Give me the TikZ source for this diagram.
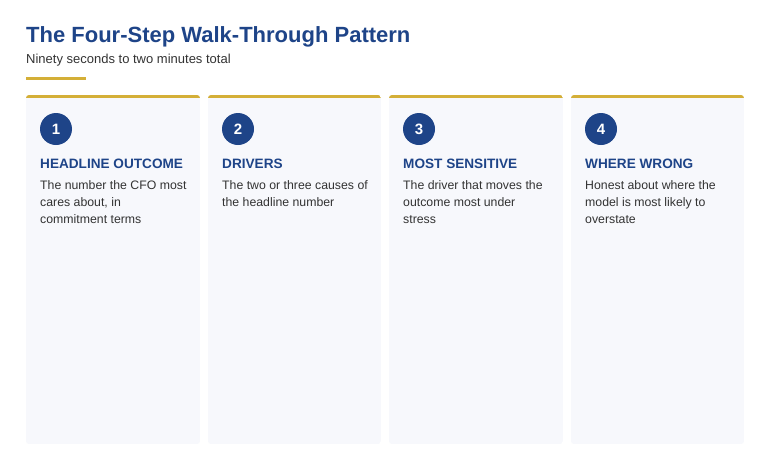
\documentclass[tikz,border=0pt]{standalone}
\usepackage{fontspec}
\setmainfont{Liberation Sans}
\definecolor{navy}{HTML}{1E4488}
\definecolor{gold}{HTML}{D4AF37}
\definecolor{cardbg}{HTML}{F7F8FC}
\definecolor{bodytxt}{HTML}{333333}
\begin{document}
\begin{tikzpicture}[x=1pt,y=-1pt,
  num/.style={circle,fill=navy,minimum size=32pt,inner sep=0,text=white,font=\fontsize{15}{17}\selectfont\bfseries},
  head/.style={anchor=base west,inner sep=0,text=navy,font=\fontsize{13.6}{16}\selectfont\bfseries},
  body/.style={anchor=north west,inner sep=0,text=bodytxt,align=left,font=\fontsize{12.3}{17}\selectfont}]
\useasboundingbox (0,0) rectangle (770,450);
\fill[white] (0,0) rectangle (770,450);
\node[anchor=base west,inner sep=0,text=navy,font=\fontsize{22}{26}\selectfont\bfseries] (title) at (26,42) {The Four-Step Walk-Through Pattern};
\node[anchor=base west,inner sep=0,text=bodytxt,font=\fontsize{13}{15}\selectfont] (sub) at (26,63) {Ninety seconds to two minutes total};
\fill[gold] (26,77) rectangle (86,79.5);
\foreach \i/\x/\w/\h/\b in {1/26/174/HEADLINE OUTCOME/{The number the CFO most\\cares about, in\\commitment terms},
  2/208/173/DRIVERS/{The two or three causes of\\the headline number},
  3/389/174/MOST SENSITIVE/{The driver that moves the\\outcome most under\\stress},
  4/571/173/WHERE WRONG/{Honest about where the\\model is most likely to\\overstate}}{
  \begin{scope}
  \clip[rounded corners=3pt] (\x,95) rectangle ++(\w,349);
  \fill[cardbg] (\x,95) rectangle ++(\w,349);
  \fill[gold] (\x,95) rectangle ++(\w,3);
  \end{scope}
  \node[num] (n\i) at (\x+30,129) {\i};
  \node[head] (h\i) at (\x+14,168) {\h};
  \node[body] (b\i) at (\x+14,180.5) {\b};
}
\end{tikzpicture}
\end{document}
